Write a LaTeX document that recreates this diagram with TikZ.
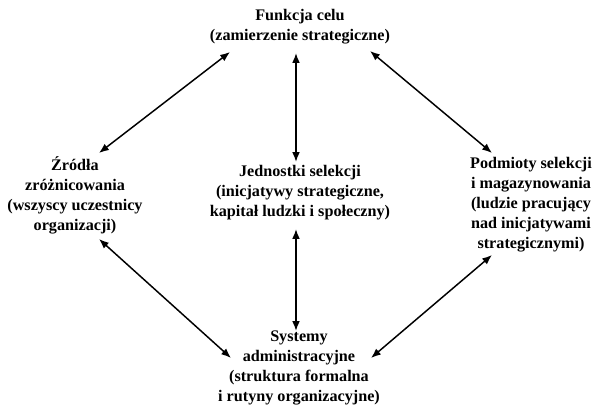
\documentclass[tikz,border=0pt]{standalone}
\usepackage{fontspec}
\setmainfont{Liberation Serif}
\usepackage{tikz}
\usetikzlibrary{arrows.meta}
\tikzset{arrow/.style={<->, >={Latex[length=7pt,width=5.5pt]}, line width=1.05pt}}
\tikzset{label-box/.style={align=center, inner sep=0pt, outer sep=0pt, font=\bfseries\fontsize{11.5}{14.2}\selectfont}}

\begin{document}
\begin{tikzpicture}[x=0.025cm, y=-0.025cm]
      \useasboundingbox (0, 0) rectangle (593, 405);

      \node[label-box] (funkcja) at (300, 27) {Funkcja celu\\(zamierzenie strategiczne)};
      \node[label-box] (zrodla) at (75, 195) {Źródła\\zróżnicowania\\(wszyscy uczestnicy\\organizacji)};
      \node[label-box] (jednostki) at (300, 193) {Jednostki selekcji\\(inicjatywy strategiczne,\\kapitał ludzki i społeczny)};
      \node[label-box] (podmioty) at (531, 205) {Podmioty selekcji\\i magazynowania\\(ludzie pracujący\\nad inicjatywami\\strategicznymi)};
      \node[label-box] (systemy) at (299, 368) {Systemy\\administracyjne\\(struktura formalna\\i rutyny organizacyjne)};

      \draw[arrow] ([shift={(-70, 25)}]funkcja.center) -- ([shift={(24, -42)}]zrodla.center);
      \draw[arrow] ([shift={(-4, 26)}]funkcja.center) -- ([shift={(-4, -31)}]jednostki.center);
      \draw[arrow] ([shift={(70, 24)}]funkcja.center) -- ([shift={(-39, -52)}]podmioty.center);
      \draw[arrow] ([shift={(24, 44)}]zrodla.center) -- ([shift={(-68, -10)}]systemy.center);
      \draw[arrow] ([shift={(-4, 36)}]jednostki.center) -- ([shift={(-3, -37)}]systemy.center);
      \draw[arrow] ([shift={(-39, 50)}]podmioty.center) -- ([shift={(72, -10)}]systemy.center);
    \end{tikzpicture}
\end{document}
